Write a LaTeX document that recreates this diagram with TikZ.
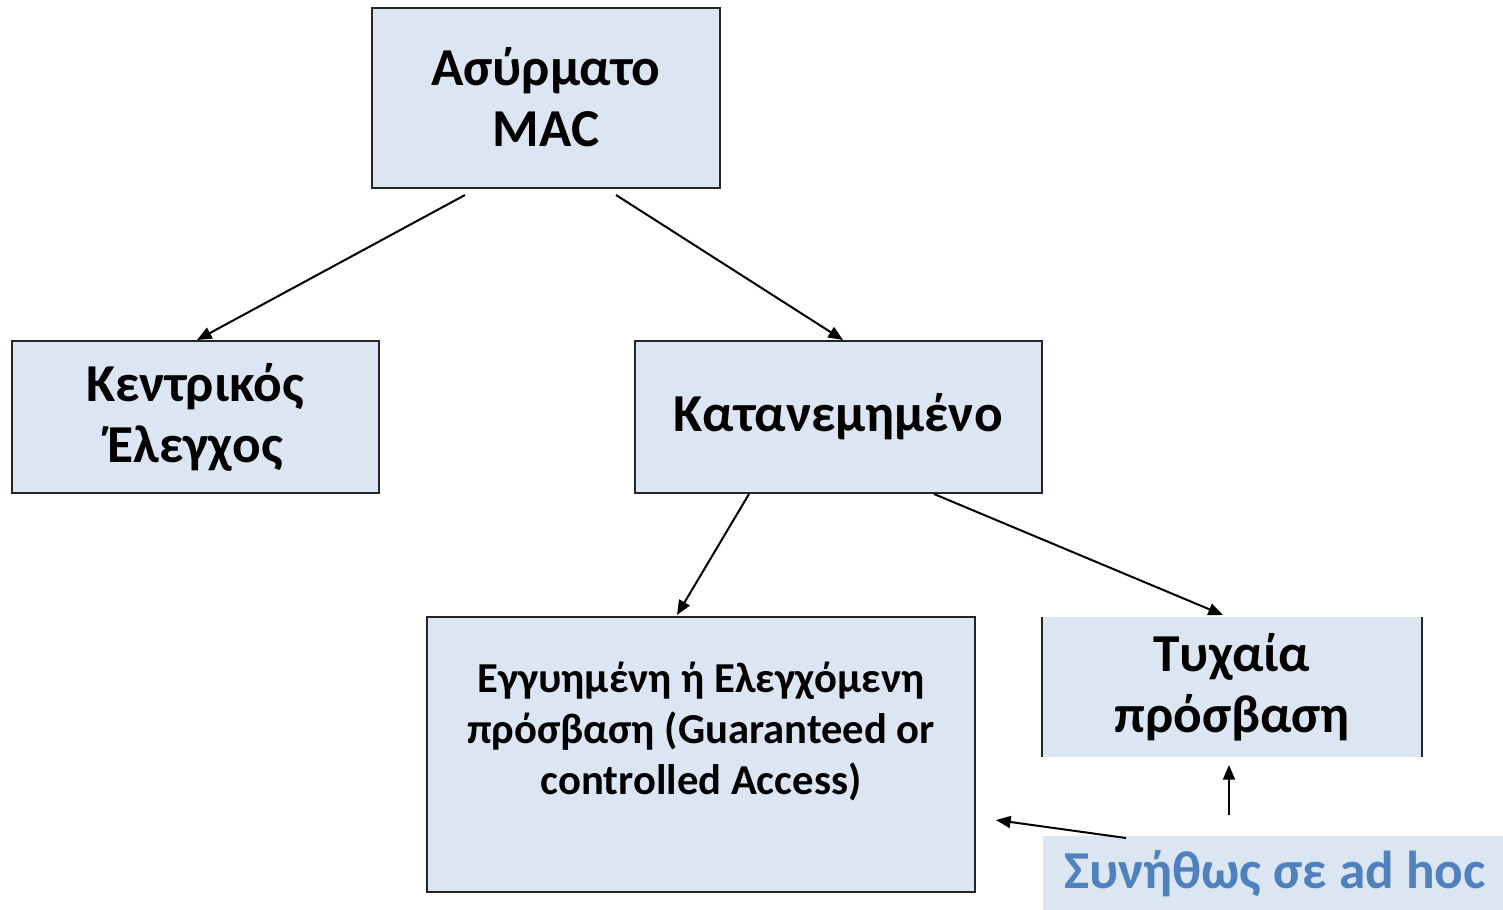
\documentclass[tikz,border=0pt]{standalone}
\usepackage{fontspec}
\setmainfont{Carlito}
\usetikzlibrary{arrows.meta,calc}
\definecolor{boxfill}{HTML}{DCE6F2}
\definecolor{noteblue}{HTML}{4F81BD}
\begin{document}
\begin{tikzpicture}[x=0.75pt,y=-0.75pt,
  box/.style={draw=black!85,line width=0.8pt,fill=boxfill},
  big/.style={font=\fontsize{40}{45.75}\selectfont\bfseries,align=center},
  small/.style={font=\fontsize{32}{38.25}\selectfont\bfseries,align=center},
  link/.style={line width=1.5pt,-{Triangle[length=11pt,width=9pt]}}]
\useasboundingbox (0,0) rectangle (1503,910);
% boxes
\path[box] (372,8) rectangle (720,188);
\node[big] (mac) at (546,97) {Ασύρματο\\MAC};
\path[box] (12,341) rectangle (379,493);
\node[big] (central) at (195,417) {Κεντρικός\\Έλεγχος};
\path[box] (635,341) rectangle (1042,493);
\node[big] (distr) at (838,417) {Κατανεμημένο};
\path[box] (427,617) rectangle (975,892);
\node[small] (guar) at (701,731) {Εγγυημένη ή Ελεγχόμενη\\πρόσβαση (Guaranteed or\\controlled Access)};
\fill[boxfill] (1042,617) rectangle (1422,757);
\draw[black!85,line width=0.8pt] (1042,617) -- (1042,757) (1422,617) -- (1422,757);
\node[big] (rand) at (1232,687) {Τυχαία\\πρόσβαση};
\fill[boxfill] (1043,836) rectangle (1503,910);
\node[font=\fontsize{40}{45.75}\selectfont\bfseries,text=noteblue] (note) at (1275,874) {Συνήθως σε ad hoc};
% named arrow ends
\coordinate (macL) at (465,195);
\coordinate (macR) at (616,195);
\coordinate (centralT) at (197,340);
\coordinate (distrT) at (843,340);
\coordinate (distrL) at (749,494);
\coordinate (distrR) at (934,494);
\coordinate (guarT) at (677,615);
\coordinate (randT) at (1223,615);
\coordinate (randB) at (1229,765);
\coordinate (noteU) at (1229,815);
\coordinate (noteL) at (1126,838);
\coordinate (guarR) at (996,820);
% connectors
\draw[link] (macL) -- (centralT);
\draw[link] (macR) -- (distrT);
\draw[link] (distrL) -- (guarT);
\draw[link] (distrR) -- (randT);
\draw[link] (noteU) -- (randB);
\draw[link] (noteL) -- (guarR);
\end{tikzpicture}
\end{document}
